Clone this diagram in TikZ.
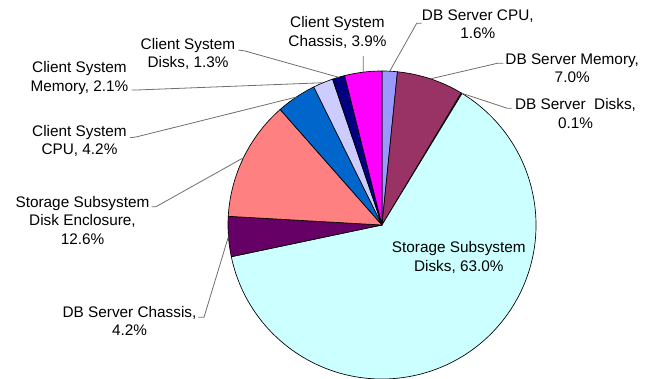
\documentclass[tikz,border=0pt]{standalone}
\usepackage{fontspec}
\setmainfont{Liberation Sans}
\usetikzlibrary{calc}
\definecolor{cDBcpu}{HTML}{9999FF}
\definecolor{cDBmem}{HTML}{993366}
\definecolor{cDBdisk}{HTML}{FFFFCC}
\definecolor{cSdisk}{HTML}{CCFFFF}
\definecolor{cDBchas}{HTML}{660066}
\definecolor{cEncl}{HTML}{FF8080}
\definecolor{cCcpu}{HTML}{0066CC}
\definecolor{cCmem}{HTML}{CCCCFF}
\definecolor{cCdisk}{HTML}{000080}
\definecolor{cCchas}{HTML}{FF00FF}
\definecolor{leadgray}{RGB}{110,110,110}
\tikzset{
  slice/.style={draw=black, line width=0.5pt, line join=round},
  lbl/.style={align=center, inner sep=0pt, font=\fontsize{11.5}{13.7}\selectfont, text=black},
  leader/.style={draw=leadgray, line width=0.6pt},
}
\newcommand{\pieslice}[3]{\filldraw[slice, fill=#3] (C) -- ++(#1:154) arc[start angle=#1, end angle=#2, radius=154] -- cycle;}
\begin{document}
\begin{tikzpicture}[x=0.75pt, y=0.75pt]
\useasboundingbox (0,0) rectangle (651,379);
\coordinate (C) at (382,154);
\begin{scope}
\clip (0,0) rectangle (651,379);
\pieslice{84.24}{90}{cDBcpu}
\pieslice{59.04}{84.24}{cDBmem}
\pieslice{58.68}{59.04}{cDBdisk}
\pieslice{-168.12}{58.68}{cSdisk}
\pieslice{176.76}{191.88}{cDBchas}
\pieslice{131.4}{176.76}{cEncl}
\pieslice{116.28}{131.4}{cCcpu}
\pieslice{108.72}{116.28}{cCmem}
\pieslice{104.04}{108.72}{cCdisk}
\pieslice{90}{104.04}{cCchas}
\end{scope}
% pie attachment points (slice mid angles)
\coordinate (pDBcpu) at ($(C)+(87.12:154)$);
\coordinate (pDBmem) at ($(C)+(71.64:154)$);
\coordinate (pDBdisk) at ($(C)+(58.86:154)$);
\coordinate (pDBchas) at ($(C)+(184.32:154)$);
\coordinate (pEncl) at ($(C)+(154.08:154)$);
\coordinate (pCcpu) at ($(C)+(123.84:154)$);
\coordinate (pCmem) at ($(C)+(112.5:154)$);
\coordinate (pCdisk) at ($(C)+(106.38:154)$);
\coordinate (pCchas) at ($(C)+(97.02:154)$);
% labels
\node[lbl] (lCchas) at (337.5,346.5) {Client System\\Chassis, 3.9\%};
\node[lbl] (lCdisk) at (188,325) {Client System\\Disks, 1.3\%};
\node[lbl] (lCmem) at (79.5,301) {Client System\\Memory, 2.1\%};
\node[lbl] (lCcpu) at (79.5,238) {Client System\\CPU, 4.2\%};
\node[lbl] (lEncl) at (82.5,158.5) {Storage Subsystem\\Disk Enclosure,\\12.6\%};
\node[lbl] (lDBchas) at (129.5,57.7) {DB Server Chassis,\\4.2\%};
\node[lbl] (lDBcpu) at (477.8,355) {DB Server CPU,\\1.6\%};
\node[lbl] (lDBmem) at (572.2,311) {DB Server Memory,\\7.0\%};
\node[lbl] (lDBdisk) at (575.5,265.5) {DB Server\ \ Disks,\\0.1\%};
\node[lbl] (lSdisk) at (458.8,121.5) {Storage Subsystem\\Disks, 63.0\%};
% leader lines
\coordinate (sCchas) at (363.2,323);
\draw[leader] (sCchas) -- (pCchas);
\coordinate (aCdisk) at (238.5,329);
\coordinate (bCdisk) at (245,328);
\draw[leader] (aCdisk) -- (bCdisk) -- (pCdisk);
\coordinate (aCmem) at (131.7,289);
\coordinate (bCmem) at (137,289);
\draw[leader] (aCmem) -- (bCmem) -- (pCmem);
\coordinate (aCcpu) at (130,241.3);
\coordinate (bCcpu) at (136,242);
\draw[leader] (aCcpu) -- (bCcpu) -- (pCcpu);
\coordinate (aEncl) at (151.7,172.3);
\coordinate (bEncl) at (156,172.3);
\draw[leader] (aEncl) -- (bEncl) -- (pEncl);
\coordinate (aDBchas) at (198.3,61.7);
\coordinate (bDBchas) at (204,61.7);
\draw[leader] (aDBchas) -- (bDBchas) -- (pDBchas);
\coordinate (aDBcpu) at (421.7,355.7);
\coordinate (bDBcpu) at (416.7,355.7);
\draw[leader] (aDBcpu) -- (bDBcpu) -- (pDBcpu);
\coordinate (aDBmem) at (503.3,315.7);
\coordinate (bDBmem) at (497.3,315.7);
\draw[leader] (aDBmem) -- (bDBmem) -- (pDBmem);
\coordinate (aDBdisk) at (511.7,270.7);
\coordinate (bDBdisk) at (507.3,270.7);
\draw[leader] (aDBdisk) -- (bDBdisk) -- (pDBdisk);
\end{tikzpicture}
\end{document}
